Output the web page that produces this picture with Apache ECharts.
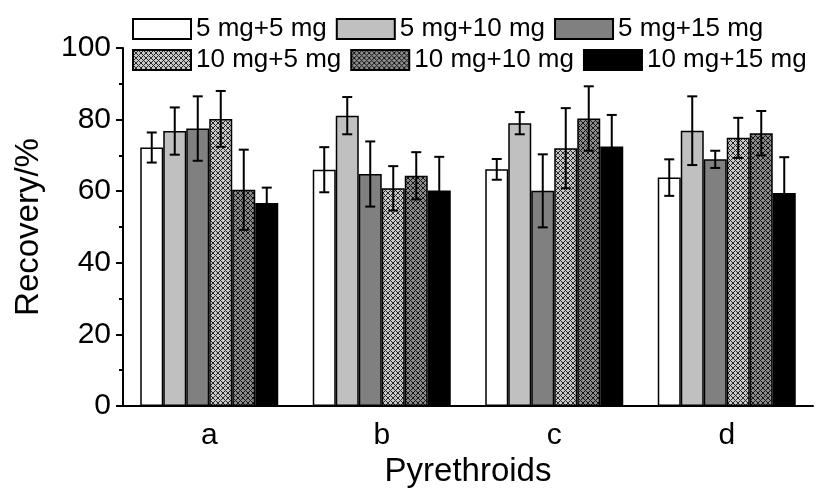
<!DOCTYPE html>
<html>
<head>
<meta charset="utf-8">
<script src="https://cdn.jsdelivr.net/npm/echarts@6/dist/echarts.min.js"></script>
<style>
  html, body { margin: 0; padding: 0; background: #fff; }
  #chart { width: 826px; height: 490px; }
</style>
</head>
<body>
<div id="chart"></div>
<script>
const categories = ['a', 'b', 'c', 'd']
const seriesNames = ['5 mg+5 mg', '5 mg+10 mg', '5 mg+15 mg', '10 mg+5 mg', '10 mg+10 mg', '10 mg+15 mg']
const yTicks = [0, 20, 40, 60, 80, 100]

// mean recovery (%) per pyrethroid
const s5p5 = [72.2, 66.0, 66.1, 63.8]
const s5p10 = [76.8, 81.1, 79.0, 76.9]
const s5p15 = [77.5, 64.8, 60.1, 68.9]
const s10p5 = [80.2, 60.8, 72.0, 74.9]
const s10p10 = [60.4, 64.3, 80.3, 76.2]
const s10p15 = [56.7, 60.2, 72.5, 59.5]

// error bar half lengths
const e5p5 = [4.2, 6.3, 2.9, 5.1]
const e5p10 = [6.6, 5.2, 3.1, 9.6]
const e5p15 = [9.0, 9.1, 10.2, 2.4]
const e10p5 = [7.8, 6.2, 11.2, 5.6]
const e10p10 = [11.2, 6.6, 9.0, 6.2]
const e10p15 = [4.3, 9.4, 8.8, 10.0]

const values = [s5p5, s5p10, s5p15, s10p5, s10p10, s10p15]
const errors = [e5p5, e5p10, e5p15, e10p5, e10p10, e10p15]

function crossHatch (bg, line) {
  const p = 5
  const c = document.createElement('canvas')
  c.width = p
  c.height = p
  const ctx = c.getContext('2d')
  ctx.fillStyle = bg
  ctx.fillRect(0, 0, p, p)
  ctx.fillStyle = line
  for (let x = 0; x < p; x++) {
    for (let y = 0; y < p; y++) {
      if ((x + y) % p === 0 || (x - y + p) % p === 0) ctx.fillRect(x, y, 1, 1)
    }
  }
  return { image: c, repeat: 'repeat' }
}

const fills = [
  '#ffffff',
  '#c0c0c0',
  '#808080',
  crossHatch('#c8c8c8', '#262626'),
  crossHatch('#8a8a8a', '#141414'),
  '#000000'
]

const font = "'Liberation Sans', Arial, sans-serif"
const chart = echarts.init(document.getElementById('chart'))

const barSeries = seriesNames.map((name, i) => ({
  type: 'bar',
  name: name,
  data: values[i],
  barGap: '0%',
  barCategoryGap: '20%',
  itemStyle: { color: fills[i], borderColor: '#000', borderWidth: 1.5 }
}))

const errData = []
values.forEach((vals, s) => {
  vals.forEach((v, c) => errData.push([c, s, v, errors[s][c]]))
})

const errorSeries = {
  type: 'custom',
  name: 'error',
  z: 10,
  data: errData,
  encode: { x: 0, y: 2 },
  renderItem: function (params, api) {
    const c = api.value(0)
    const s = api.value(1)
    const v = api.value(2)
    const e = api.value(3)
    const band = api.size([1, 0])[0]
    const bw = band * 0.8 / seriesNames.length
    const x = api.coord([c, 0])[0] + (s - 2.5) * bw
    const yHi = api.coord([c, v + e])[1]
    const yLo = api.coord([c, v - e])[1]
    const cap = 5
    const style = { stroke: '#000', lineWidth: 2 }
    return {
      type: 'group',
      children: [
        { type: 'line', shape: { x1: x, y1: yHi, x2: x, y2: yLo }, style: style },
        { type: 'line', shape: { x1: x - cap, y1: yHi, x2: x + cap, y2: yHi }, style: style },
        { type: 'line', shape: { x1: x - cap, y1: yLo, x2: x + cap, y2: yLo }, style: style }
      ]
    }
  }
}

const legendBase = {
  left: 132,
  orient: 'horizontal',
  itemWidth: 58,
  itemHeight: 20,
  itemGap: 9,
  icon: 'rect',
  textStyle: { fontFamily: font, fontSize: 26, color: '#000', padding: [0, 0, 0, 0] },
  padding: 0
}

const option = {
  animation: false,
  backgroundColor: '#fff',
  grid: { left: 123, right: 13, top: 48, bottom: 84, outerBoundsMode: 'none' },
  legend: [
    Object.assign({}, legendBase, { top: 16, data: seriesNames.slice(0, 3) }),
    Object.assign({}, legendBase, { top: 47, data: seriesNames.slice(3) })
  ],
  xAxis: {
    type: 'category',
    data: categories,
    name: 'Pyrethroids',
    nameLocation: 'middle',
    nameGap: 47,
    nameTextStyle: { fontFamily: font, fontSize: 33, color: '#000' },
    axisLine: { lineStyle: { color: '#000', width: 2 } },
    axisTick: { alignWithLabel: true, length: 8, lineStyle: { color: '#000', width: 2 } },
    axisLabel: { fontFamily: font, fontSize: 30, color: '#000', margin: 15 }
  },
  yAxis: {
    type: 'value',
    min: yTicks[0],
    max: yTicks[yTicks.length - 1],
    interval: 20,
    name: 'Recovery/%',
    nameLocation: 'middle',
    nameGap: 78,
    nameTextStyle: { fontFamily: font, fontSize: 33, color: '#000' },
    axisLine: { show: true, lineStyle: { color: '#000', width: 2 } },
    axisTick: { show: true, length: 7, lineStyle: { color: '#000', width: 2 } },
    minorTick: { show: true, splitNumber: 2, length: 4, lineStyle: { color: '#000', width: 2 } },
    splitLine: { show: false },
    axisLabel: { fontFamily: font, fontSize: 30, color: '#000', margin: 12 }
  },
  series: barSeries.concat([errorSeries])
}

chart.setOption(option)
</script>
</body>
</html>
